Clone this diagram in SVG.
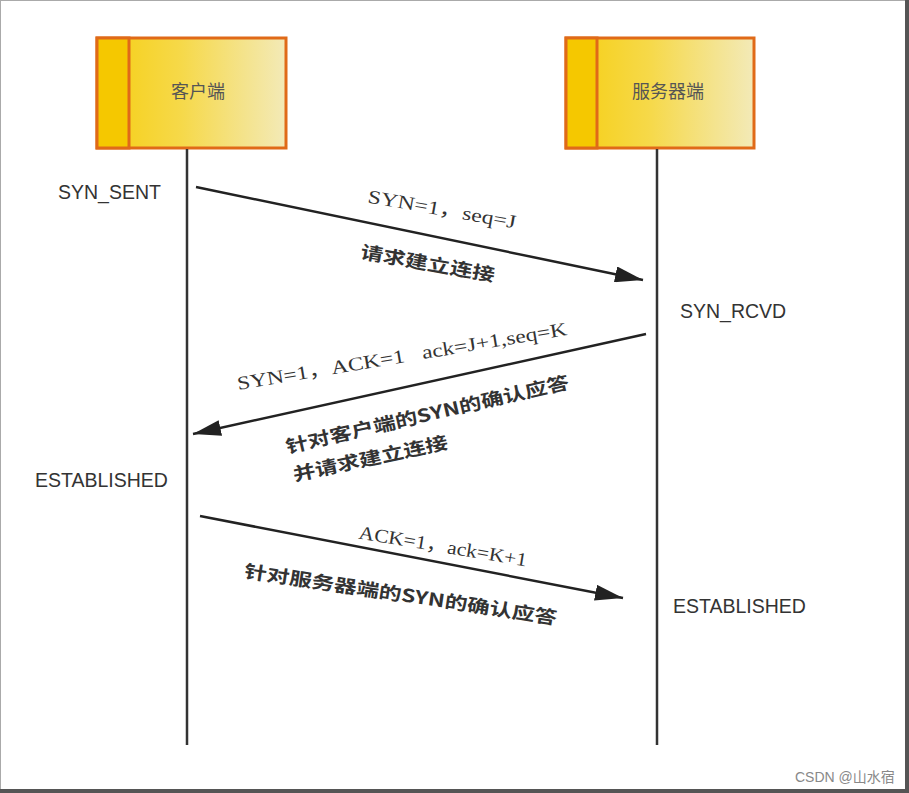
<svg xmlns="http://www.w3.org/2000/svg" width="909" height="793" viewBox="0 0 909 793">
<defs>
<linearGradient id="boxg" x1="0" y1="0" x2="1" y2="0">
<stop offset="0" stop-color="#F6CE10"/>
<stop offset="0.45" stop-color="#F6D94A"/>
<stop offset="1" stop-color="#F3EAB8"/>
</linearGradient>
<marker id="ah" markerWidth="30" markerHeight="16" refX="28" refY="8" orient="auto" markerUnits="userSpaceOnUse">
<path d="M0,0 L28,8 L0,16 Z" fill="#222"/>
</marker>
<style>
.strip{fill:#F5C800;stroke:#E06A18;stroke-width:3}
.main{fill:url(#boxg);stroke:#E06A18;stroke-width:3}
.title{font-family:"Noto Sans CJK SC",sans-serif;font-size:18px;fill:#555;text-anchor:middle}
.life{stroke:#333;stroke-width:2.5;fill:none}
.msg{stroke:#222;stroke-width:2.5;fill:none;marker-end:url(#ah)}
.state{font-family:"Liberation Sans",Arial,sans-serif;font-size:19.5px;fill:#333}
.mono{font-family:"Liberation Serif","Noto Sans CJK SC",serif;font-size:19px;fill:#333;text-anchor:middle;dominant-baseline:central;white-space:pre}
.cn{font-family:"Noto Sans CJK SC",sans-serif;font-weight:bold;font-size:18px;fill:#333;text-anchor:middle;dominant-baseline:central}
.wm{font-family:"Liberation Sans","Noto Sans CJK SC",sans-serif;font-size:14px;fill:#888}
</style>
</defs>
<rect x="0" y="0" width="909" height="793" fill="#fff"/>
<rect x="0.5" y="0.5" width="905" height="789" fill="none" stroke="#aaa" stroke-width="1"/>
<rect x="905" y="0" width="4" height="793" fill="#555"/>
<rect x="0" y="789" width="909" height="4" fill="#555"/>

<g id="client">
<rect class="main" x="97" y="38" width="189" height="110"/>
<rect class="strip" x="97" y="38" width="32" height="110"/>
<text class="title" x="198" y="98">客户端</text>
</g>
<g id="server">
<rect class="main" x="566" y="38" width="188" height="110"/>
<rect class="strip" x="566" y="38" width="31" height="110"/>
<text class="title" x="668" y="98">服务器端</text>
</g>

<g id="states">
<text class="state" x="58" y="199">SYN_SENT</text>
<text class="state" x="680" y="318">SYN_RCVD</text>
<text class="state" x="35" y="487">ESTABLISHED</text>
<text class="state" x="673" y="613">ESTABLISHED</text>
</g>

<g id="connectors">
<line class="life" x1="187" y1="149" x2="187" y2="745"/>
<line class="life" x1="657" y1="149" x2="657" y2="745"/>
<line class="msg" x1="196" y1="187" x2="643" y2="280"/>
<line class="msg" x1="646" y1="334" x2="193" y2="434"/>
<line class="msg" x1="200" y1="516" x2="623" y2="598"/>
</g>

<g id="labels">
<text class="mono" transform="translate(442,209) rotate(10)" textLength="150" lengthAdjust="spacingAndGlyphs">SYN=1，seq=J</text>
<text class="cn" transform="translate(428,262) rotate(10)" textLength="136" lengthAdjust="spacingAndGlyphs">请求建立连接</text>
<text class="mono" xml:space="preserve" transform="translate(402,356) rotate(-9.5)" textLength="334" lengthAdjust="spacingAndGlyphs">SYN=1，ACK=1   ack=J+1,seq=K</text>
<text class="cn" transform="translate(427,413) rotate(-13)" textLength="290" lengthAdjust="spacingAndGlyphs">针对客户端的SYN的确认应答</text>
<text class="cn" transform="translate(370,457) rotate(-12)" textLength="158" lengthAdjust="spacingAndGlyphs">并请求建立连接</text>
<text class="mono" transform="translate(443,546) rotate(9.5)" textLength="170" lengthAdjust="spacingAndGlyphs">ACK=1，ack=K+1</text>
<text class="cn" transform="translate(401,593) rotate(8.6)" textLength="316" lengthAdjust="spacingAndGlyphs">针对服务器端的SYN的确认应答</text>
</g>

<text class="wm" x="795" y="782">CSDN @山水宿</text>
</svg>
